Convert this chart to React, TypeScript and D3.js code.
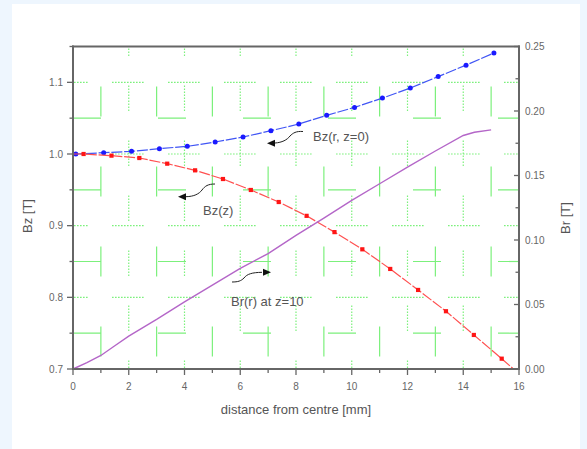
import React from "react";
import * as d3 from "d3";

const blueX = [0.1, 1.1, 2.1, 3.1, 4.1, 5.1, 6.1, 7.1, 8.1, 9.1, 10.1, 11.1, 12.1, 13.1, 14.1, 15.1];
const blueY = [1.0, 1.0018, 1.0037, 1.0074, 1.0107, 1.0167, 1.0237, 1.0325, 1.0418, 1.054, 1.065, 1.078, 1.092, 1.108, 1.124, 1.141];
const blueStart = [0, 1.0];

const redX = [0.38, 1.38, 2.38, 3.38, 4.38, 5.38, 6.38, 7.38, 8.38, 9.38, 10.38, 11.38, 12.38, 13.38, 14.38, 15.38];
const redY = [1.0, 0.9977, 0.9944, 0.9865, 0.9772, 0.9651, 0.9498, 0.933, 0.9137, 0.891, 0.867, 0.8396, 0.8103, 0.7806, 0.7475, 0.7144];
const redStart = [0, 1.0];
const redEnd = [15.8, 0.7];

const purpleX = [0, 0.5, 1, 1.5, 2, 3, 4, 5, 6, 7, 8, 9, 10, 11, 12, 13, 14, 14.4, 15];
const purpleY = [0, 0.005, 0.0105, 0.018, 0.0255, 0.0384, 0.052, 0.065, 0.078, 0.0895, 0.1036, 0.117, 0.1307, 0.1436, 0.1565, 0.169, 0.181, 0.1835, 0.1854];

const xTicks = [0, 2, 4, 6, 8, 10, 12, 14, 16];
const xMinor = [1, 3, 5, 7, 9, 11, 13, 15];
const leftTicks = [0.7, 0.8, 0.9, 1.0, 1.1];
const leftMinor = [0.75, 0.85, 0.95, 1.05, 1.15];
const rightTicks = [0, 0.05, 0.1, 0.15, 0.2, 0.25];
const rightMinor = [0.025, 0.075, 0.125, 0.175, 0.225];
const gridX = [1, 2, 3, 4, 5, 6, 7, 8, 9, 10, 11, 12, 13, 14, 15];
const gridY = [0.75, 0.8, 0.85, 0.9, 0.95, 1.0, 1.05, 1.1];

const x = d3.scaleLinear().domain([0, 16]).range([73, 519]);
const yL = d3.scaleLinear().domain([0.7, 1.15]).range([369, 46.5]);
const yR = d3.scaleLinear().domain([0, 0.25]).range([369, 46.5]);

const FONT = "'Liberation Sans', Arial, sans-serif";
const GREEN = "#7cf07c";

function dotted(on: number, off: number) {
  const parts: number[] = [];
  let len = 0;
  while (len + 3 <= on) {
    parts.push(1.6, 1.4);
    len += 3;
  }
  parts[parts.length - 1] += off;
  return parts.join(" ");
}

function Arrow({ d, hx, hy, dir }: { d: string; hx: number; hy: number; dir: number }) {
  const pts = dir < 0
    ? `${hx},${hy} ${hx + 8},${hy - 3.5} ${hx + 8},${hy + 3.5}`
    : `${hx},${hy} ${hx - 8},${hy - 3.5} ${hx - 8},${hy + 3.5}`;
  return (
    <g>
      <path d={d} fill="none" stroke="#222" strokeWidth={1} />
      <polygon points={pts} fill="#111" />
    </g>
  );
}

export default function App() {
  const top = yL(1.15);
  const bottom = yL(0.7);
  const left = x(0);
  const right = x(16);

  const blueLine = d3.line<number[]>().x(d => x(d[0])).y(d => yL(d[1]))(
    [blueStart, ...blueX.map((v, i) => [v, blueY[i]])]
  );
  const redLine = d3.line<number[]>().x(d => x(d[0])).y(d => yL(d[1]))(
    [redStart, ...redX.map((v, i) => [v, redY[i]]), redEnd]
  );
  const purpleLine = d3.line<number[]>().x(d => x(d[0])).y(d => yR(d[1]))(
    purpleX.map((v, i) => [v, purpleY[i]])
  );

  return (
    <div style={{ position: "fixed", left: 0, top: 0, width: 587, height: 449 }}>
      <svg width={587} height={449} style={{ display: "block" }}>
        <defs>
          <clipPath id="plotclip">
            <rect x={left} y={top} width={right - left} height={bottom - top} />
          </clipPath>
        </defs>
        <rect x={0} y={0} width={587} height={449} fill="#eef6fe" />
        <rect x={12} y={4} width={568} height={445} fill="#ffffff" />

        {/* grid */}
        <g clipPath="url(#plotclip)">
          {gridX.map(v =>
            v % 2 === 1 ? (
              <line key={"gv" + v} x1={x(v)} x2={x(v)} y1={top} y2={bottom}
                stroke={GREEN} strokeWidth={1.2} strokeDasharray="30 50" strokeDashoffset={40} />
            ) : (
              <line key={"gv" + v} x1={x(v)} x2={x(v)} y1={top} y2={bottom}
                stroke={GREEN} strokeWidth={1.2} strokeDasharray={dotted(28, 28)} strokeDashoffset={16} />
            )
          )}
          {gridY.map((v, i) =>
            Math.round(v * 100) % 10 !== 0 ? (
              <line key={"gh" + i} x1={left} x2={right} y1={yL(v)} y2={yL(v)}
                stroke={GREEN} strokeWidth={1.2} strokeDasharray="28 57" />
            ) : (
              <line key={"gh" + i} x1={left} x2={right} y1={yL(v)} y2={yL(v)}
                stroke={GREEN} strokeWidth={1.2} strokeDasharray={dotted(33, 23)} strokeDashoffset={-(x(1.4) - left)} />
            )
          )}
        </g>

        {/* series */}
        <path d={blueLine ?? ""} fill="none" stroke="#4055f5" strokeWidth={1.2} strokeDasharray="11 1.8" />
        {blueX.map((v, i) => (
          <circle key={"b" + i} cx={x(v)} cy={yL(blueY[i])} r={2.5} fill="#1a1aff" />
        ))}
        <path d={redLine ?? ""} fill="none" stroke="#ff5050" strokeWidth={1.2} strokeDasharray="11 1.8" />
        {redX.map((v, i) => (
          <rect key={"r" + i} x={x(v) - 2.1} y={yL(redY[i]) - 2.1} width={4.2} height={4.2} fill="#ff1515" />
        ))}
        <path d={purpleLine ?? ""} fill="none" stroke="#b466c8" strokeWidth={1.4} />

        {/* frame */}
        <line x1={left - 1} x2={right + 1} y1={top} y2={top} stroke="#666" strokeWidth={2} />
        <line x1={left} x2={left} y1={top - 1} y2={bottom + 1} stroke="#666" strokeWidth={2} />
        <line x1={right} x2={right} y1={top - 1} y2={bottom + 1} stroke="#666" strokeWidth={2} />
        <line x1={left - 1} x2={right + 1} y1={bottom} y2={bottom} stroke="#666" strokeWidth={2} />

        {/* bottom ticks */}
        {xTicks.map(v => (
          <g key={"xt" + v}>
            <line x1={x(v)} x2={x(v)} y1={bottom} y2={bottom + 6} stroke="#666" strokeWidth={1.3} />
            <text x={x(v)} y={389.5} fontSize={10} fill="#666" textAnchor="middle" fontFamily={FONT}>{v}</text>
          </g>
        ))}
        {xMinor.map(v => (
          <line key={"xm" + v} x1={x(v)} x2={x(v)} y1={bottom} y2={bottom + 4} stroke="#666" strokeWidth={1.3} />
        ))}

        {/* left ticks */}
        {leftTicks.map(v => (
          <g key={"lt" + v}>
            <line x1={left - 6} x2={left} y1={yL(v)} y2={yL(v)} stroke="#666" strokeWidth={1.3} />
            <text x={63} y={yL(v) + 3.5} fontSize={10} fill="#666" textAnchor="end" fontFamily={FONT}>{v.toFixed(1)}</text>
          </g>
        ))}
        {leftMinor.map(v => (
          <line key={"lm" + v} x1={left - 3.5} x2={left} y1={yL(v)} y2={yL(v)} stroke="#666" strokeWidth={1.3} />
        ))}

        {/* right ticks */}
        {rightTicks.map(v => (
          <g key={"rt" + v}>
            <line x1={right - 5} x2={right} y1={yR(v)} y2={yR(v)} stroke="#666" strokeWidth={1.3} />
            <text x={525} y={yR(v) + 3.5} fontSize={10} fill="#666" textAnchor="start" fontFamily={FONT}>{v.toFixed(2)}</text>
          </g>
        ))}
        {rightMinor.map(v => (
          <line key={"rm" + v} x1={right - 3.5} x2={right} y1={yR(v)} y2={yR(v)} stroke="#666" strokeWidth={1.3} />
        ))}

        {/* axis titles */}
        <text x={296} y={414} fontSize={13} fill="#555" textAnchor="middle" fontFamily={FONT}>distance from centre [mm]</text>
        <text transform="translate(32,216) rotate(-90)" fontSize={13} fill="#555" textAnchor="middle" fontFamily={FONT}>Bz [T]</text>
        <text transform="translate(570,218) rotate(-90)" fontSize={13} fill="#555" textAnchor="middle" fontFamily={FONT}>Br [T]</text>

        {/* annotations */}
        <text x={313} y={141} fontSize={13} fill="#555" fontFamily={FONT}>Bz(r, z=0)</text>
        <Arrow d="M303,131.5 C296,131 293,133 290,136 C287,140 282,142.5 275,143" hx={267} hy={143.3} dir={-1} />
        <text x={203} y={214.5} fontSize={13} fill="#555" fontFamily={FONT}>Bz(z)</text>
        <Arrow d="M215,184 C208,184 205,186 202,190 C199,194 194,196.5 186,196.7" hx={178} hy={196.8} dir={-1} />
        <text x={231} y={306} fontSize={13} fill="#555" fontFamily={FONT}>Br(r) at z=10</text>
        <Arrow d="M232,282 C238,282 241,281 244,278 C247,274 252,272.5 262,272.3" hx={271} hy={272.2} dir={1} />
      </svg>
    </div>
  );
}
